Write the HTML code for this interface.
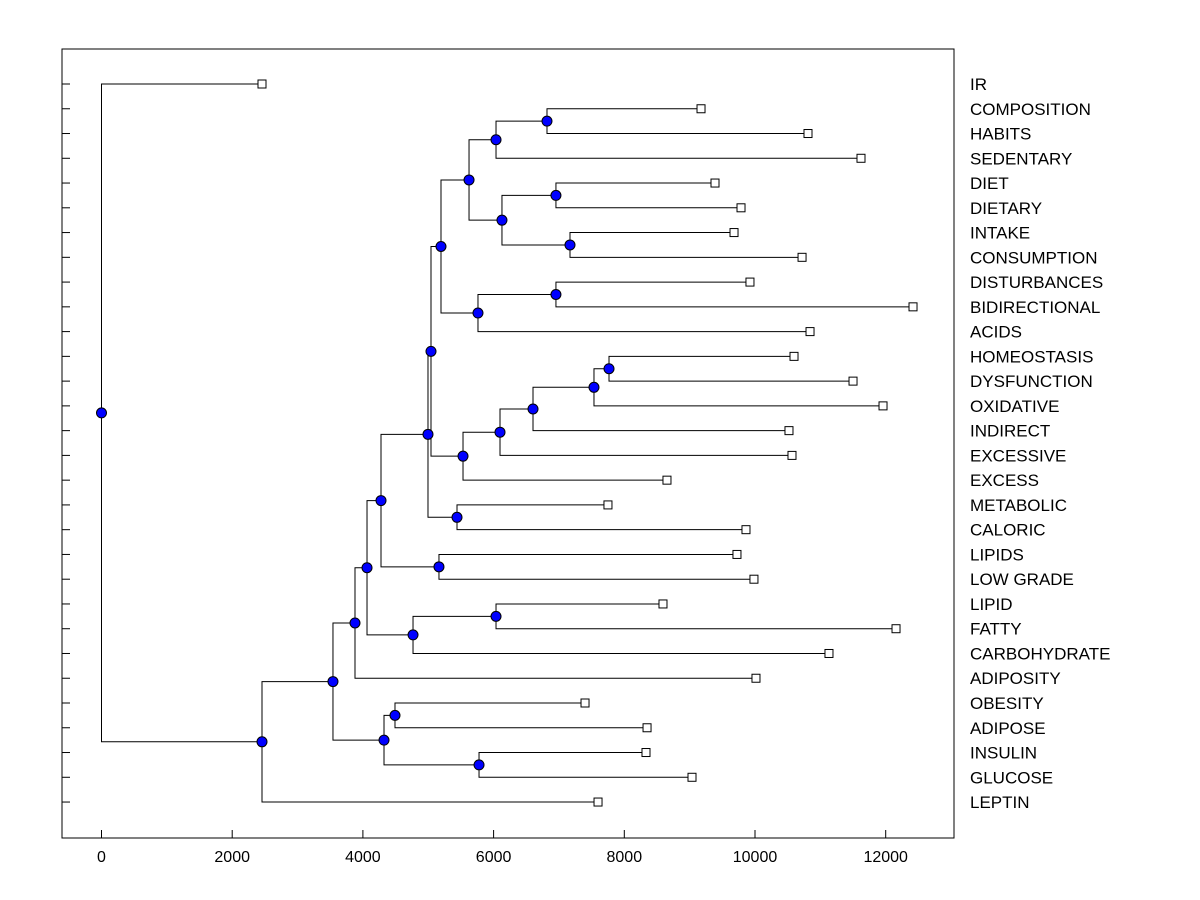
<!DOCTYPE html>
<html><head><meta charset="utf-8"><style>
html,body{margin:0;padding:0;background:#fff;}
svg{display:block;font-family:"Liberation Sans",Arial,sans-serif;}
</style></head><body>
<svg id="chart" width="1200" height="900">
<rect x="62" y="49" width="892" height="789" fill="#fff" stroke="#000" stroke-width="1"/>
<g id="links"></g>
<g id="marks"></g>
<g id="axes"></g>
</svg>
<script>
const leafNames = ["IR","COMPOSITION","HABITS","SEDENTARY","DIET","DIETARY","INTAKE","CONSUMPTION","DISTURBANCES","BIDIRECTIONAL","ACIDS","HOMEOSTASIS","DYSFUNCTION","OXIDATIVE","INDIRECT","EXCESSIVE","EXCESS","METABOLIC","CALORIC","LIPIDS","LOW GRADE","LIPID","FATTY","CARBOHYDRATE","ADIPOSITY","OBESITY","ADIPOSE","INSULIN","GLUCOSE","LEPTIN"];
const leafValues = [2456,9174,10811,11622,9388,9786,9679,10720,9923,12418,10842,10597,11500,11959,10520,10566,8653,7750,9862,9724,9984,8592,12158,11132,10015,7399,8348,8332,9036,7598];
const xTicks = [0,2000,4000,6000,8000,10000,12000];
// merge tree: [height, childA, childB]; strings are leaves
const tree = [0, "IR",
  [2456,
    [3542,
      [3879,
        [4063,
          [4277,
            [4996,
              [5042,
                [5195,
                  [5624,
                    [6037, [6817,"COMPOSITION","HABITS"], "SEDENTARY"],
                    [6128, [6954,"DIET","DIETARY"], [7169,"INTAKE","CONSUMPTION"]]
                  ],
                  [5761, [6954,"DISTURBANCES","BIDIRECTIONAL"], "ACIDS"]
                ],
                [5532,
                  [6098,
                    [6603,
                      [7536, [7766,"HOMEOSTASIS","DYSFUNCTION"], "OXIDATIVE"],
                      "INDIRECT"],
                    "EXCESSIVE"],
                  "EXCESS"]
              ],
              [5440,"METABOLIC","CALORIC"]
            ],
            [5164,"LIPIDS","LOW GRADE"]
          ],
          [4767, [6037,"LIPID","FATTY"], "CARBOHYDRATE"]
        ],
        "ADIPOSITY"
      ],
      [4323, [4491,"OBESITY","ADIPOSE"], [5777,"INSULIN","GLUCOSE"]]
    ],
    "LEPTIN"
  ]
];
const NS="http://www.w3.org/2000/svg";
const X = v => 101.5 + v*0.06535;
const Y = i => 84 + i*24.76;
const links=document.getElementById('links'), marks=document.getElementById('marks'), axes=document.getElementById('axes');
function mk(tag, attrs, parent){const e=document.createElementNS(NS,tag);for(const k in attrs)e.setAttribute(k,attrs[k]);parent.appendChild(e);return e;}
const circles=[];
function draw(n){
  if(typeof n==="string"){const i=leafNames.indexOf(n);return {x:X(leafValues[i]),y:Y(i)};}
  const a=draw(n[1]), b=draw(n[2]);
  const x=X(n[0]), y=(a.y+b.y)/2;
  const p=mk('path',{d:`M${a.x},${a.y}H${x}V${b.y}H${b.x}`,fill:'none',stroke:'#000','stroke-width':1},links);
  
  
  circles.push({x,y});
  return {x,y};
}
draw(tree);
circles.forEach(c=>{
  const e=mk('circle',{cx:c.x,cy:c.y,r:5,fill:'#0000ff',stroke:'#000','stroke-width':1},marks);
  
  
});
leafNames.forEach((nm,i)=>{
  const s=mk('rect',{x:X(leafValues[i])-4,y:Y(i)-4,width:8,height:8,fill:'#fff',stroke:'#000','stroke-width':1},marks);
  
  
  const t=mk('line',{x1:62,x2:70,y1:Y(i),y2:Y(i),stroke:'#000'},axes);
  
  
  const l=mk('text',{x:970,y:Y(i)+6,'font-size':17,fill:'#000'},axes);
  l.textContent=nm;
  
  
});
xTicks.forEach(v=>{
  const t=mk('line',{x1:X(v),x2:X(v),y1:830,y2:838,stroke:'#000'},axes);
  
  
  const l=mk('text',{x:X(v),y:862,'font-size':16,'text-anchor':'middle',fill:'#000'},axes);
  l.textContent=v;
  
  
});
</script>
</body></html>
